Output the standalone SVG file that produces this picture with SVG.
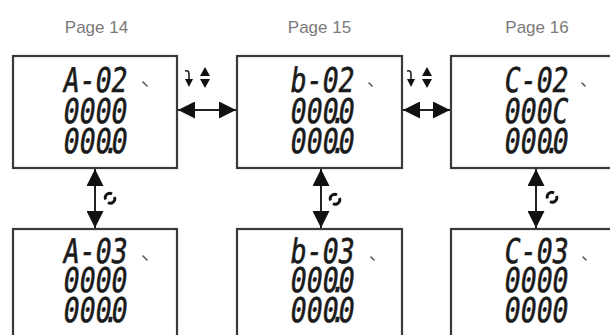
<svg xmlns="http://www.w3.org/2000/svg" width="610" height="335" viewBox="0 0 610 335">
<defs>
<style>
.box{fill:#fff;stroke:#3a3a3a;stroke-width:2.2}
.page{font-family:"Liberation Sans",Arial,sans-serif;font-size:17px;fill:#7a7a7a;text-anchor:middle}
.lcd{font-family:"DejaVu Sans Mono","Liberation Mono",monospace;font-size:34px;fill:#1a1a1a;stroke:#1a1a1a;stroke-width:0.6}
.tick{stroke:#555;stroke-width:1.6;stroke-linecap:round}
.conn{stroke:#222;stroke-width:2}
.head{fill:#111}
.ring{fill:none;stroke:#111;stroke-width:2.8}
</style>
<marker id="ah" viewBox="0 0 17 17" refX="17" refY="8.5" markerWidth="17" markerHeight="17" markerUnits="userSpaceOnUse" orient="auto-start-reverse">
<path d="M0,0 L17,8.5 L0,17 Z" class="head"/>
</marker>
</defs>

<text class="page" x="96.5" y="33">Page 14</text>
<text class="page" x="319.5" y="33">Page 15</text>
<text class="page" x="537" y="33">Page 16</text>

<g id="page14">
<rect class="box" x="13" y="56" width="164" height="112"/>
<text class="lcd" transform="translate(62,92) skewX(-8) scale(0.78,1)">A-02</text>
<text class="lcd" transform="translate(62,123) skewX(-8) scale(0.78,1)">0000</text>
<text class="lcd" transform="translate(62,153) skewX(-8) scale(0.78,1)">000<tspan dx="-10.2">.</tspan><tspan dx="-10.2">0</tspan></text>
<line class="tick" x1="143" y1="82" x2="147" y2="86"/>
</g>

<g id="page15">
<rect class="box" x="237" y="56" width="165" height="112"/>
<text class="lcd" transform="translate(289,92) skewX(-8) scale(0.78,1)">b-02</text>
<text class="lcd" transform="translate(289,123) skewX(-8) scale(0.78,1)">000<tspan dx="-10.2">.</tspan><tspan dx="-10.2">0</tspan></text>
<text class="lcd" transform="translate(289,153) skewX(-8) scale(0.78,1)">000<tspan dx="-10.2">.</tspan><tspan dx="-10.2">0</tspan></text>
<line class="tick" x1="369" y1="83" x2="372" y2="86"/>
</g>

<g id="page16">
<rect class="box" x="451" y="56" width="170" height="112"/>
<text class="lcd" transform="translate(503,92) skewX(-8) scale(0.78,1)">C-02</text>
<text class="lcd" transform="translate(503,123) skewX(-8) scale(0.78,1)">000C</text>
<text class="lcd" transform="translate(503,153) skewX(-8) scale(0.78,1)">000<tspan dx="-10.2">.</tspan><tspan dx="-10.2">0</tspan></text>
<line class="tick" x1="582" y1="83" x2="585" y2="86"/>
</g>

<g id="page14b">
<rect class="box" x="13" y="229" width="164" height="120"/>
<text class="lcd" transform="translate(62,263) skewX(-8) scale(0.78,1)">A-03</text>
<text class="lcd" transform="translate(62,292) skewX(-8) scale(0.78,1)">0000</text>
<text class="lcd" transform="translate(62,322) skewX(-8) scale(0.78,1)">000<tspan dx="-10.2">.</tspan><tspan dx="-10.2">0</tspan></text>
<line class="tick" x1="143" y1="256" x2="147" y2="260"/>
</g>

<g id="page15b">
<rect class="box" x="237" y="229" width="165" height="120"/>
<text class="lcd" transform="translate(289,263) skewX(-8) scale(0.78,1)">b-03</text>
<text class="lcd" transform="translate(289,292) skewX(-8) scale(0.78,1)">000<tspan dx="-10.2">.</tspan><tspan dx="-10.2">0</tspan></text>
<text class="lcd" transform="translate(289,322) skewX(-8) scale(0.78,1)">000<tspan dx="-10.2">.</tspan><tspan dx="-10.2">0</tspan></text>
<line class="tick" x1="371" y1="257" x2="374" y2="260"/>
</g>

<g id="page16b">
<rect class="box" x="451" y="229" width="170" height="120"/>
<text class="lcd" transform="translate(503,263) skewX(-8) scale(0.78,1)">C-03</text>
<text class="lcd" transform="translate(503,292) skewX(-8) scale(0.78,1)">0000</text>
<text class="lcd" transform="translate(503,322) skewX(-8) scale(0.78,1)">0000</text>
<line class="tick" x1="583" y1="257" x2="586" y2="260"/>
</g>

<g id="connectors">
<line class="conn" x1="178" y1="110" x2="236" y2="110" marker-start="url(#ah)" marker-end="url(#ah)"/>
<line class="conn" x1="403" y1="110" x2="450" y2="110" marker-start="url(#ah)" marker-end="url(#ah)"/>
<line class="conn" x1="95" y1="169" x2="95" y2="228" marker-start="url(#ah)" marker-end="url(#ah)"/>
<line class="conn" x1="321" y1="169" x2="321" y2="228" marker-start="url(#ah)" marker-end="url(#ah)"/>
<line class="conn" x1="536" y1="169" x2="536" y2="228" marker-start="url(#ah)" marker-end="url(#ah)"/>
</g>

<g id="icons">
<g id="keys1">
<path d="M185,71 Q189,70 189,74 L189,80" fill="none" stroke="#222" stroke-width="1.6"/>
<path d="M185,79 L193,79 L189,87 Z" class="head"/>
<path d="M200,76 L210,76 L205,67 Z" class="head"/>
<path d="M200,79 L210,79 L205,88 Z" class="head"/>
</g>
<g id="keys2" transform="translate(222,0)">
<path d="M185,71 Q189,70 189,74 L189,80" fill="none" stroke="#222" stroke-width="1.6"/>
<path d="M185,79 L193,79 L189,87 Z" class="head"/>
<path d="M200,76 L210,76 L205,67 Z" class="head"/>
<path d="M200,79 L210,79 L205,88 Z" class="head"/>
</g>
<path class="ring" d="M105.5,199.5 A4.5,4.5 0 0 1 112,194 M114.5,197 A4.5,4.5 0 0 1 108,202.5"/>
<path class="ring" d="M330.5,200.5 A4.5,4.5 0 0 1 337,195 M339.5,198 A4.5,4.5 0 0 1 333,203.5"/>
<path class="ring" d="M547.5,198.5 A4.5,4.5 0 0 1 554,193 M556.5,196 A4.5,4.5 0 0 1 550,201.5"/>
</g>
</svg>
